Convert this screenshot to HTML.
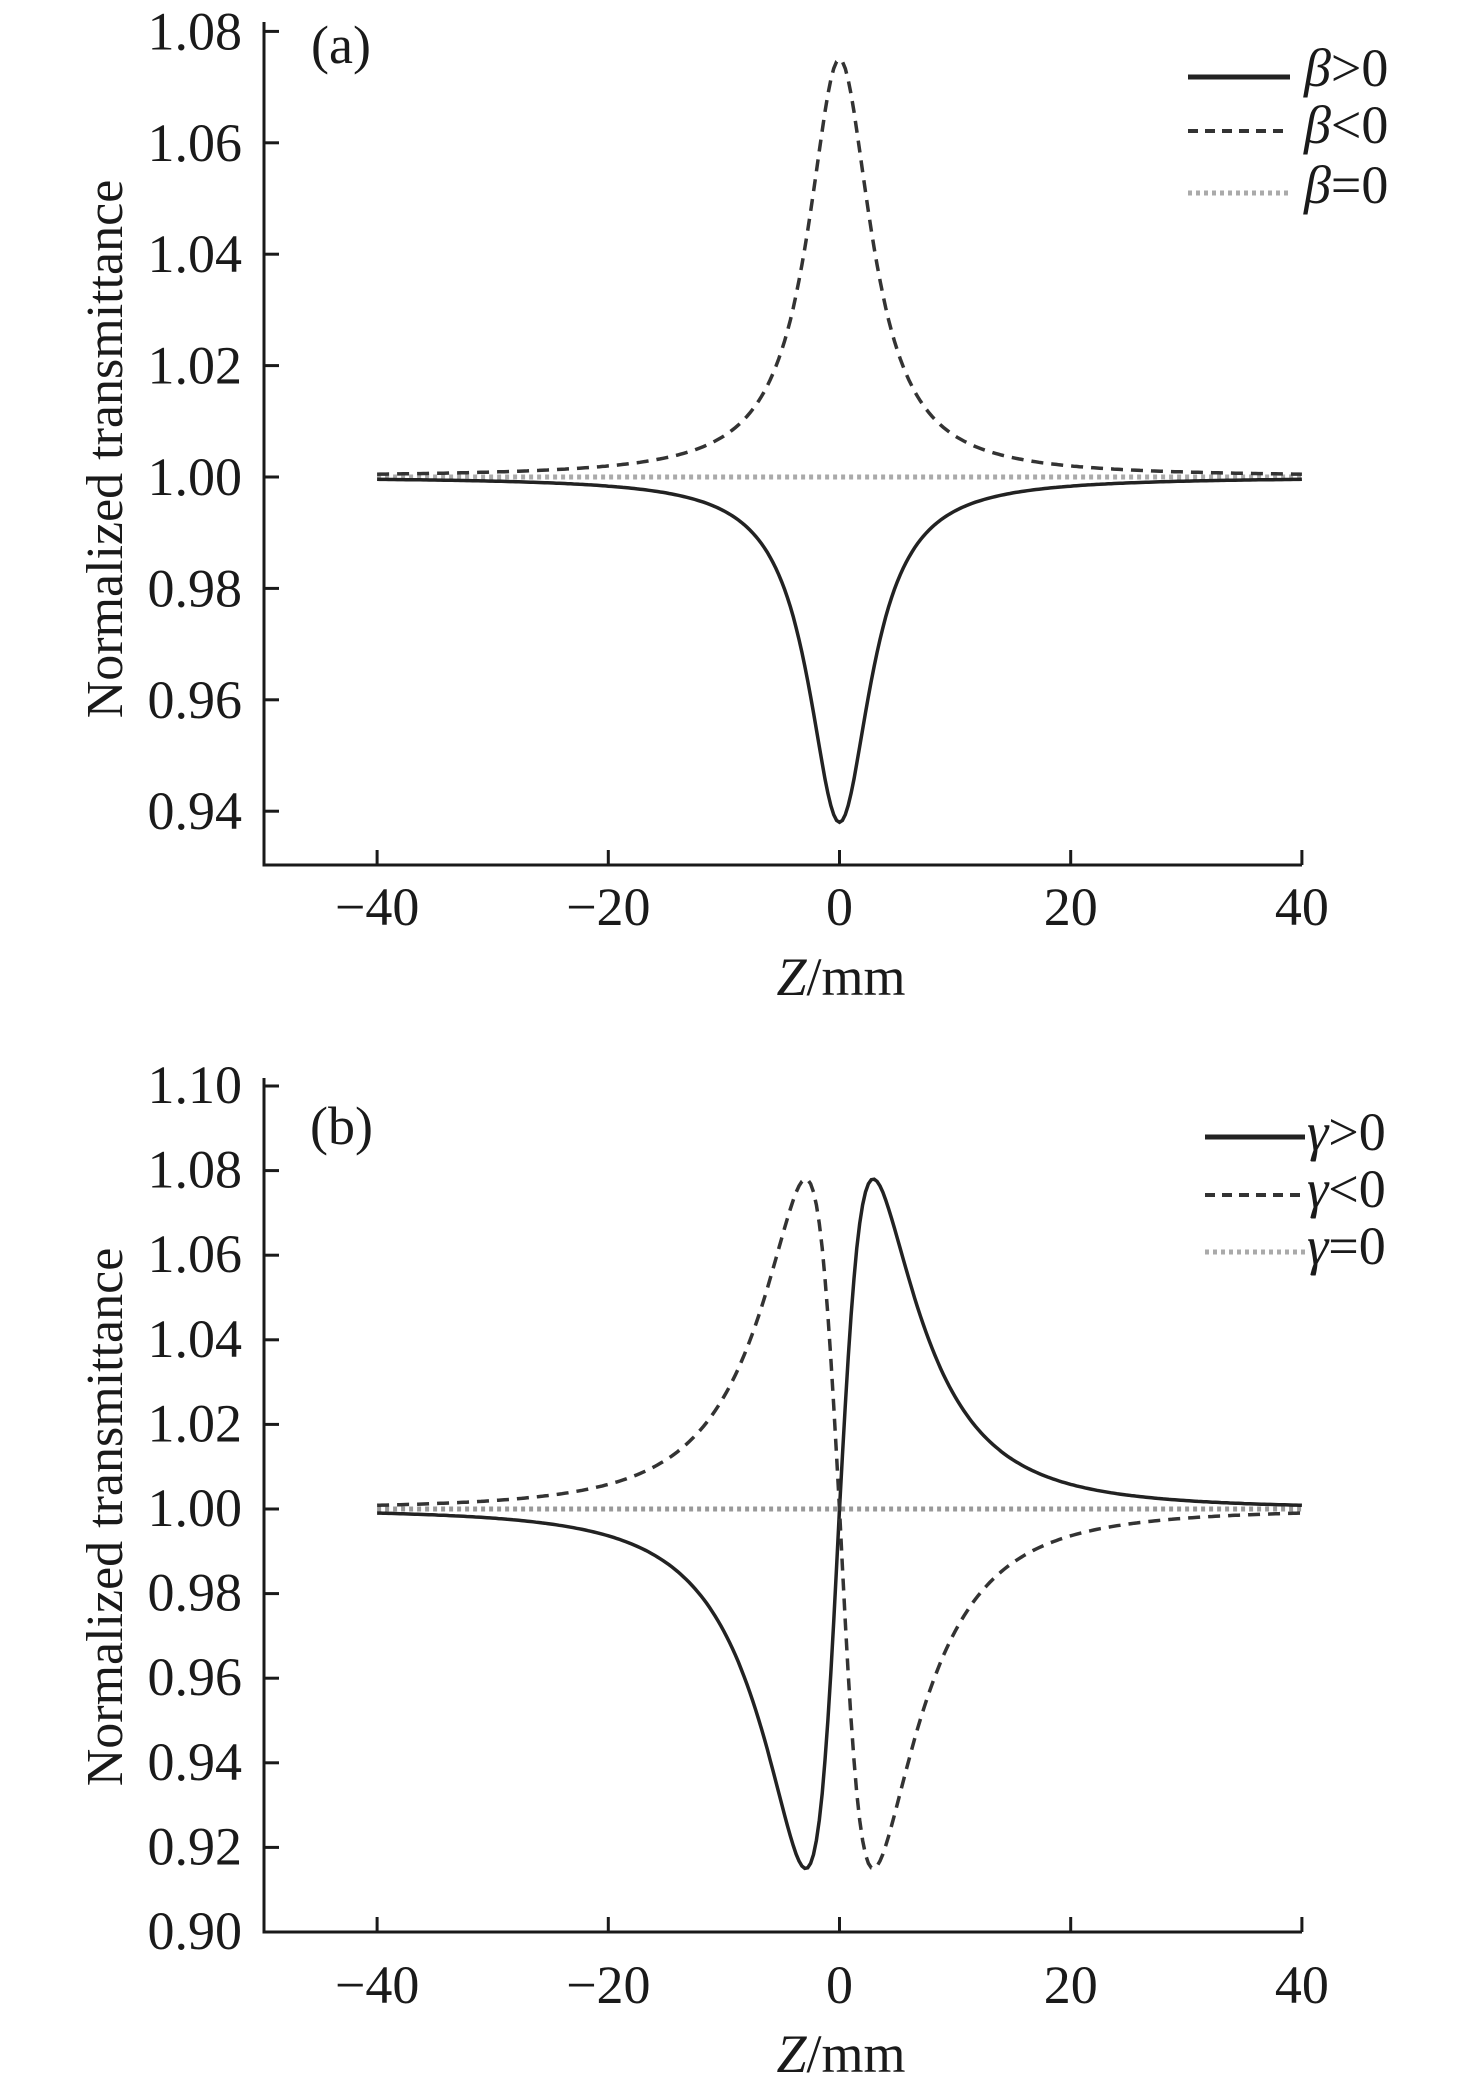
<!DOCTYPE html>
<html><head><meta charset="utf-8"><style>
html,body{margin:0;padding:0;background:#fff}
svg{display:block}
text{font-family:"Liberation Serif","Times New Roman",serif;fill:#1a1a1a}
</style></head><body>
<svg id="s" width="1476" height="2074" viewBox="0 0 1476 2074" xmlns="http://www.w3.org/2000/svg">
<g stroke="#1a1a1a" stroke-width="3" fill="none">
<path d="M264,22 V865 H1302"/>
<path d="M264,1078 V1932 H1302"/>
</g>
<g id="ticks" stroke="#1a1a1a" stroke-width="3"></g>
<g id="labels" font-size="54"></g>
<text x="311" y="63" font-size="54">(a)</text>
<text x="310" y="1144" font-size="54">(b)</text>
<text x="841" y="995" font-size="54" text-anchor="middle"><tspan font-style="italic">Z</tspan>/mm</text>
<text x="841" y="2072" font-size="54" text-anchor="middle"><tspan font-style="italic">Z</tspan>/mm</text>
<text transform="translate(122,449) rotate(-90)" font-size="52" text-anchor="middle">Normalized transmittance</text>
<text transform="translate(122,1517) rotate(-90)" font-size="52" text-anchor="middle">Normalized transmittance</text>
<g id="curves" fill="none"></g>
<g font-size="54" font-style="normal">
<line x1="1188" y1="77" x2="1290" y2="77" stroke="#222" stroke-width="5"/>
<line x1="1188" y1="131" x2="1290" y2="131" stroke="#333" stroke-width="4" stroke-dasharray="10,7"/>
<line x1="1188" y1="193" x2="1290" y2="193" stroke="#aaa" stroke-width="5" stroke-dasharray="4,4"/>
<text x="1304" y="86"><tspan font-style="italic">β</tspan>&gt;0</text>
<text x="1304" y="143"><tspan font-style="italic">β</tspan>&lt;0</text>
<text x="1304" y="203"><tspan font-style="italic">β</tspan>=0</text>
<line x1="1205" y1="1137" x2="1305" y2="1137" stroke="#222" stroke-width="5"/>
<line x1="1205" y1="1195" x2="1305" y2="1195" stroke="#333" stroke-width="4" stroke-dasharray="10,7"/>
<line x1="1205" y1="1252" x2="1305" y2="1252" stroke="#aaa" stroke-width="5" stroke-dasharray="4,4"/>
<text x="1307" y="1150"><tspan font-style="italic">γ</tspan>&gt;0</text>
<text x="1307" y="1207"><tspan font-style="italic">γ</tspan>&lt;0</text>
<text x="1307" y="1264"><tspan font-style="italic">γ</tspan>=0</text>
</g>
</svg>
<script>
var NS="http://www.w3.org/2000/svg";
function el(p,n,a,t){var e=document.createElementNS(NS,n);for(var k in a)e.setAttribute(k,a[k]);if(t!=null)e.textContent=t;p.appendChild(e);return e;}
var T=document.getElementById('ticks'),L=document.getElementById('labels'),C=document.getElementById('curves');
function X(z){return 839.5+z*11.56;}
function Ya(v){return 477-(v-1)*5570;}
function Yb(v){return 1509-(v-1)*4230;}
for(var i=0;i<=7;i++){var v=0.94+0.02*i,y=Ya(v);el(T,'line',{x1:264,y1:y,x2:279,y2:y});el(L,'text',{x:242,y:y+18,'text-anchor':'end'},v.toFixed(2));}
for(var i=0;i<=10;i++){var v=0.90+0.02*i,y=Yb(v);el(T,'line',{x1:264,y1:y,x2:279,y2:y});el(L,'text',{x:242,y:y+17,'text-anchor':'end'},v.toFixed(2));}
[-40,-20,0,20,40].forEach(function(z){var x=X(z);
el(T,'line',{x1:x,y1:865,x2:x,y2:850});el(T,'line',{x1:x,y1:1932,x2:x,y2:1917});
var s=(z<0?'\u2212':'')+Math.abs(z);
el(L,'text',{x:x,y:925,'text-anchor':'middle'},s);el(L,'text',{x:x,y:2003,'text-anchor':'middle'},s);});
function path(f,Y){var d='';for(var z=-40;z<=40.001;z+=0.25){d+=(d?'L':'M')+X(z).toFixed(1)+','+Y(f(z)).toFixed(1);}return d;}
function lor(z){var x=z/3.3;return 1/(1+x*x);}
function disp(z){var x=z/3.4;return 4*x/((x*x+9)*(x*x+1))/0.203;}
el(C,'path',{d:path(function(z){return 1;},Ya),stroke:'#aaa','stroke-width':5,'stroke-dasharray':'4,4'});
el(C,'path',{d:path(function(z){return 1-0.062*lor(z);},Ya),stroke:'#222','stroke-width':3.5});
el(C,'path',{d:path(function(z){return 1+0.075*lor(z);},Ya),stroke:'#333','stroke-width':3.5,'stroke-dasharray':'12,8'});
el(C,'path',{d:path(function(z){return 1;},Yb),stroke:'#999','stroke-width':5,'stroke-dasharray':'4,4'});
el(C,'path',{d:path(function(z){var d=disp(z);return 1+(d>0?0.078:0.085)*d;},Yb),stroke:'#222','stroke-width':3.5});
el(C,'path',{d:path(function(z){var d=disp(z);return 1-(d<0?0.078:0.085)*d;},Yb),stroke:'#333','stroke-width':3.5,'stroke-dasharray':'12,8'});
</script>
</body></html>
